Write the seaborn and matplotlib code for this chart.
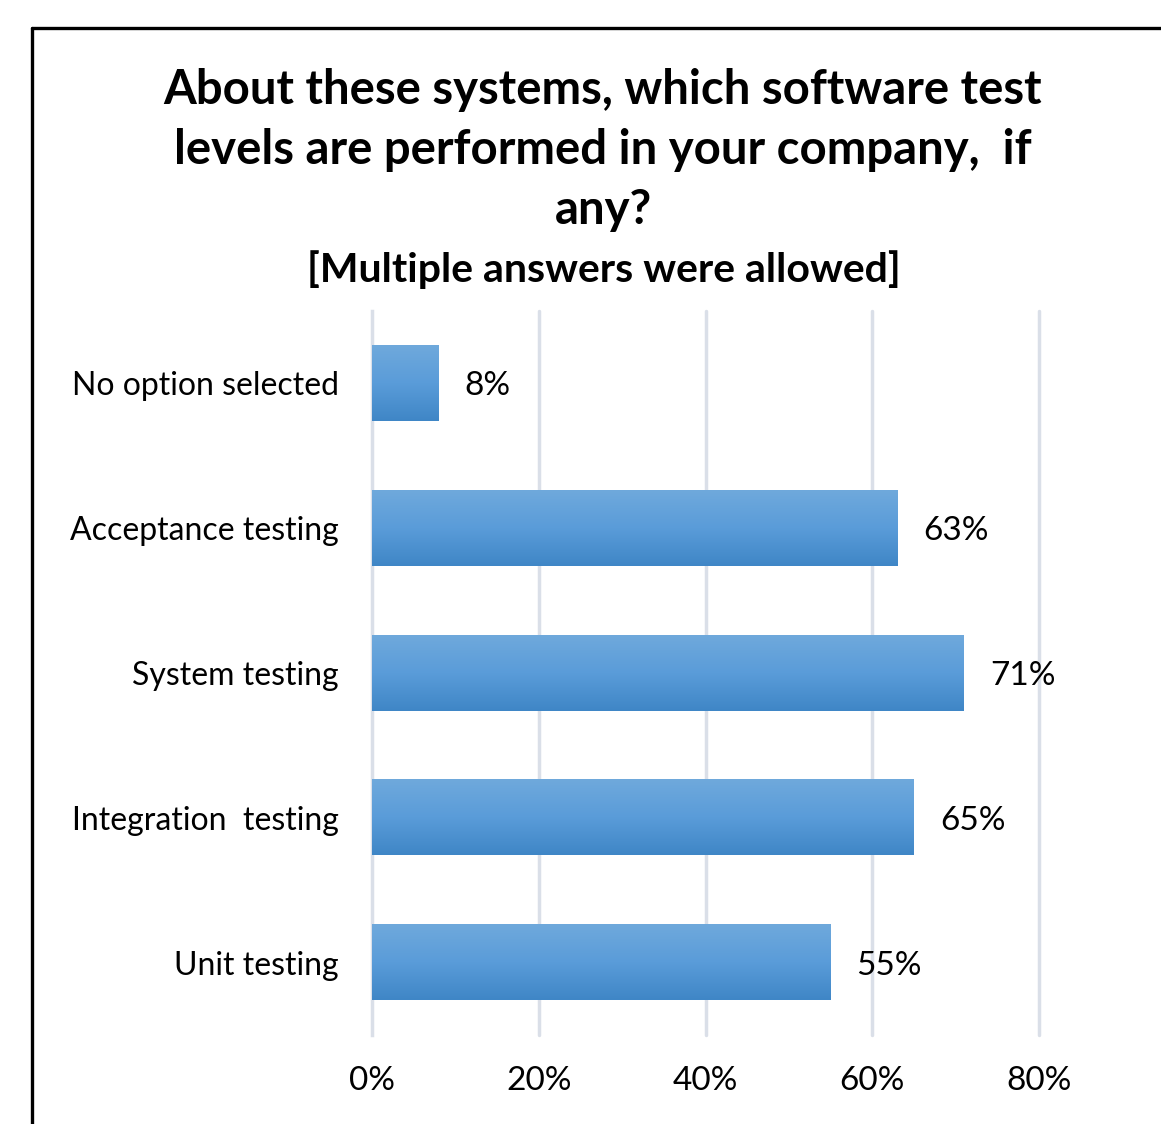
import numpy as np
import pandas as pd
import matplotlib
matplotlib.use("Agg")
import matplotlib.pyplot as plt
from matplotlib.colors import LinearSegmentedColormap
from matplotlib.lines import Line2D
import seaborn as sns

categories = ["No option selected", "Acceptance testing", "System testing",
              "Integration  testing", "Unit testing"]
shares = [8, 63, 71, 65, 55]
xticks = [0, 20, 40, 60, 80]
xtick_labels = ["0%", "20%", "40%", "60%", "80%"]

title_lines = "About these systems, which software test\nlevels are performed in your company,  if\nany?"
subtitle = "[Multiple answers were allowed]"

sns.set_theme(style="white")
plt.rcParams["font.family"] = ["Lato", "DejaVu Sans"]
plt.rcParams["text.color"] = "black"

W, H = 1161, 1124
fig = plt.figure(figsize=(W / 100, H / 100), dpi=100)
ax = fig.add_axes([372 / W, 89 / H, (1039 - 372) / W, (1035 - 311) / H])

df = pd.DataFrame({"category": categories, "share": shares})
sns.barplot(data=df, x="share", y="category", orient="h", color="#5b9bd5",
            width=0.52, ax=ax, zorder=3)

# vertical gradient fill on every bar
grad = LinearSegmentedColormap.from_list("bar", ["#6fa9dc", "#5a9cd9", "#3f86c6"])
gimg = np.linspace(0, 1, 256).reshape(-1, 1)
for p in ax.patches:
    x0, y0 = p.get_x(), p.get_y()
    w, h = p.get_width(), p.get_height()
    p.set_alpha(0)
    ax.imshow(gimg, cmap=grad, aspect="auto", extent=(x0, x0 + w, y0 + h, y0),
              zorder=4, interpolation="bilinear")

for p, v in zip(ax.patches, shares):
    ax.text(p.get_width() + 3.1, p.get_y() + p.get_height() / 2, f"{v}%",
            va="center_baseline", ha="left", fontsize=24, color="black", zorder=5,
            clip_on=False)

ax.set_xlim(0, 80)
ax.set_ylim(len(categories) - 0.5, -0.5)
ax.set_xticks(xticks)
ax.set_xticklabels(xtick_labels, fontsize=24)
ax.set_xlabel("")
ax.set_ylabel("")
ax.tick_params(axis="x", length=0, pad=22)
ax.tick_params(axis="y", which="major", length=0, pad=24, labelsize=23)
ax.set_yticks(np.arange(-0.5, len(categories), 1.0), minor=True)
ax.tick_params(axis="y", which="minor", length=9, width=2.5, color="#dadfe8", direction="out")
for lab in ax.get_yticklabels() + ax.get_xticklabels():
    lab.set_color("black")

grid_c = "#dadfe8"
for xv in xticks[1:]:
    ax.axvline(xv, color=grid_c, lw=2.5, zorder=1, clip_on=False)
for side in ["top", "right", "bottom"]:
    ax.spines[side].set_visible(False)
ax.spines["left"].set_color(grid_c)
ax.spines["left"].set_linewidth(2.5)
ax.spines["left"].set_zorder(2)

fig.text(603 / W, 1 - 150 / H, title_lines, ha="center", va="center",
         fontsize=34, fontweight="bold", linespacing=1.45, color="black")
fig.text(604 / W, 1 - 270 / H, subtitle, ha="center", va="center",
         fontsize=29.5, fontweight="bold", color="black")

# outer frame edges
fig.add_artist(Line2D([32 / W, 32 / W], [0, 1 - 28 / H], color="black", lw=2.4,
                      transform=fig.transFigure))
fig.add_artist(Line2D([32 / W, 1], [1 - 28 / H, 1 - 28 / H], color="black", lw=2.4,
                      transform=fig.transFigure))

fig.savefig("out.png", dpi=100, facecolor="white")
